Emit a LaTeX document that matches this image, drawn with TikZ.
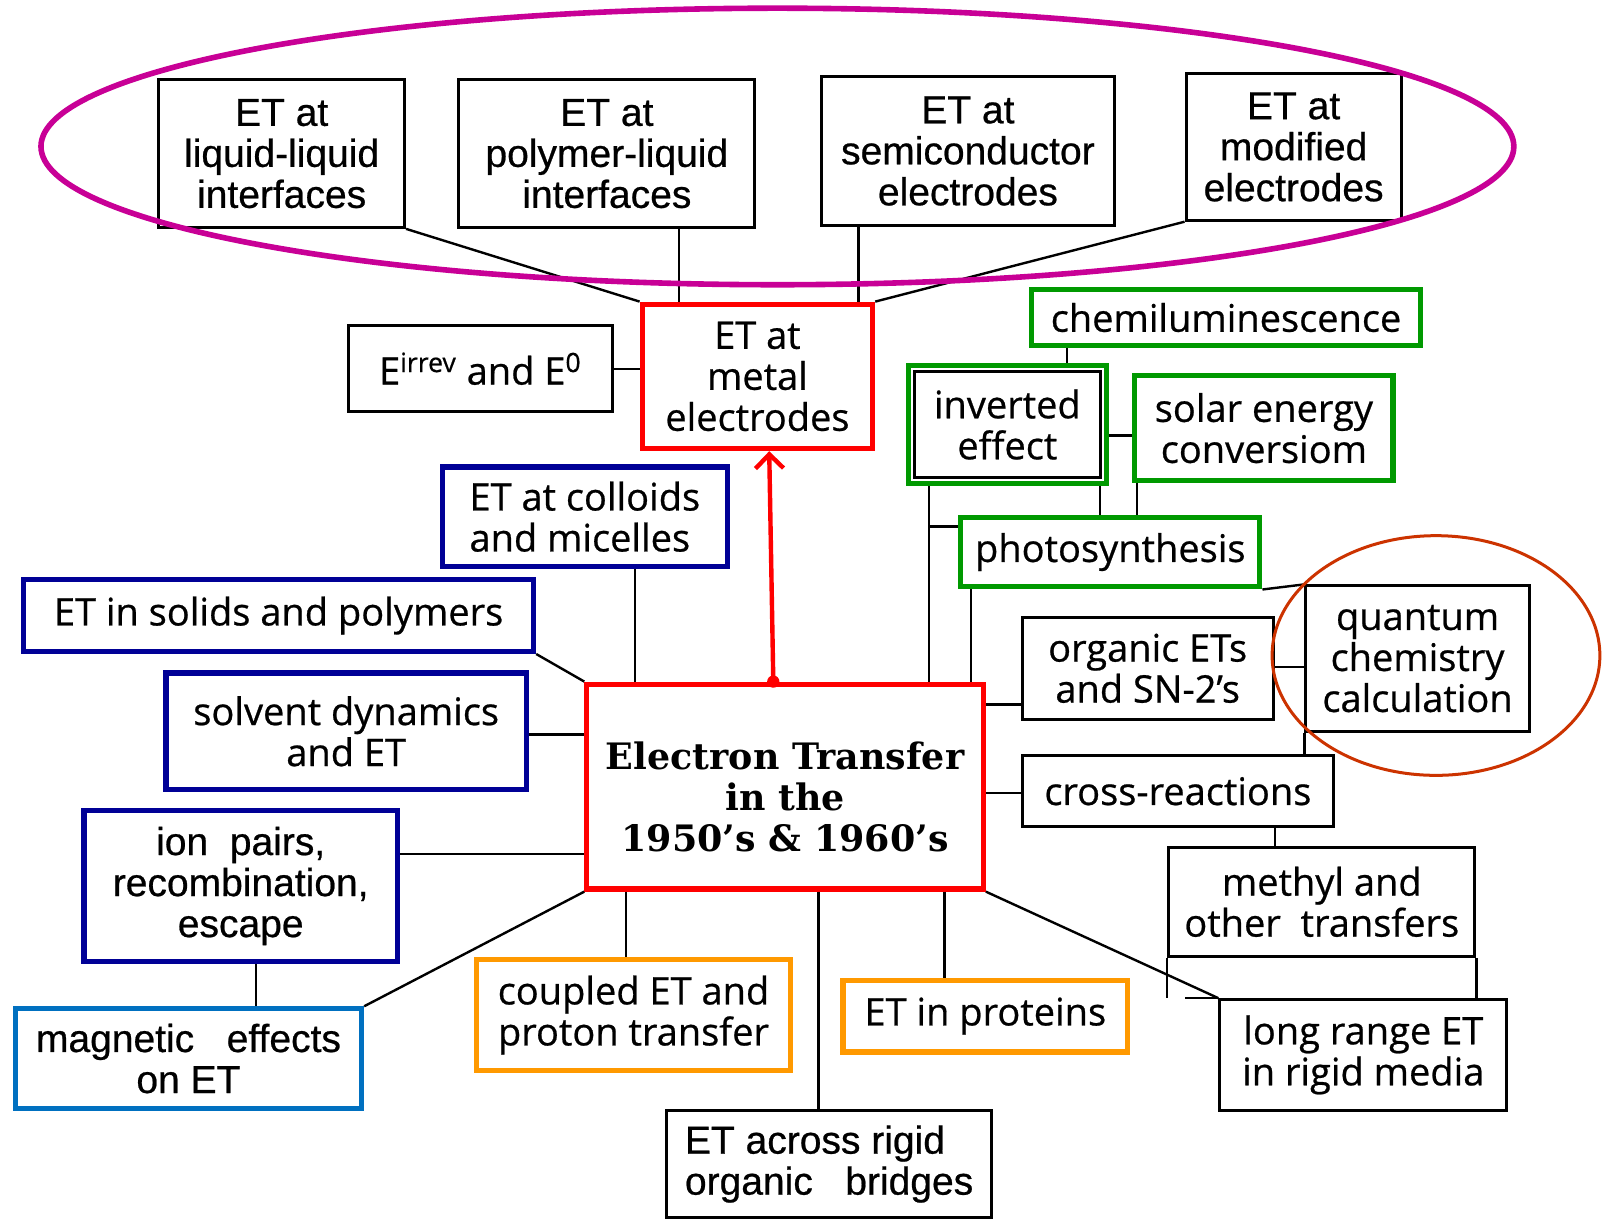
\documentclass[tikz,border=0pt]{standalone}
\usepackage{fontspec}
\setmainfont{Open Sans}[FakeBold=0.6]
\newfontfamily\arialf{Liberation Sans}[FakeBold=0.6]
\newfontfamily\serifb{DejaVu Serif}
\usetikzlibrary{arrows.meta}
\definecolor{magenta1}{RGB}{200,0,150}
\definecolor{redbox}{RGB}{255,0,0}
\definecolor{navy1}{RGB}{0,0,150}
\definecolor{lblue}{RGB}{0,112,192}
\definecolor{green1}{RGB}{0,153,0}
\definecolor{orange1}{RGB}{255,153,0}
\definecolor{rust}{RGB}{204,51,0}
\newcommand\bx[7]{\node[#6, minimum width={(#4-#2)*0.5121pt}, minimum height={(#5-#3)*0.5121pt}] (#1) at ({(#2+#4)/2},{(#3+#5)/2}) {#7};}
\tikzset{
  base/.style={inner sep=0pt, align=center, font=\fontsize{19}{20.5}\selectfont},
  arfont/.style={font=\arialf\fontsize{19.5}{20.5}\selectfont},
  blk/.style={base, draw=black, line width=1.5pt},
  blkar/.style={blk, arfont},
  redb/.style={base, draw=redbox, line width=2.6pt},
  mainst/.style={redb, font=\serifb\bfseries\fontsize{18.2}{20.5}\selectfont},
  grn/.style={base, draw=green1, line width=2.6pt},
  nvy/.style={base, draw=navy1, line width=2.6pt},
  nvyar/.style={nvy, arfont},
  lbl/.style={base, draw=lblue, line width=2.6pt, arfont},
  orn/.style={base, draw=orange1, line width=2.6pt},
  conn/.style={draw=black, line width=1.2pt},
}
\begin{document}
\begin{tikzpicture}[x=0.5121pt, y=-0.5121pt]
\fill[white] (0,0) rectangle (1568,1192);
\useasboundingbox (0,0) rectangle (1568,1192);
% nodes
\bx{t1}{155}{78}{395}{222}{blkar}{ET at\\liquid-liquid\\interfaces}
\bx{t2}{448}{78}{737}{222}{blkar}{ET at\\polymer-liquid\\interfaces}
\bx{t3}{802}{75}{1088}{220}{blkar}{ET at\\semiconductor\\electrodes}
\bx{t4}{1158}{72}{1368}{215}{blkar}{ET at\\modified\\electrodes}
\bx{metal}{627}{297}{852}{438}{redb}{ET at\\metal\\electrodes}
\bx{erev}{340}{318}{598}{402}{blk}{E\textsuperscript{irrev} and E\textsuperscript{0}}
\bx{chemi}{1007}{283}{1387}{337}{grn}{chemiluminescence}
\draw[black, line width=1.5pt] (893,363) rectangle (1074,466);
\bx{inv}{887}{357}{1080}{472}{grn}{inverted\\effect}
\bx{solar}{1108}{367}{1360}{469}{grn}{solar energy\\conversiom}
\bx{photo}{938}{505}{1230}{573}{grn}{photosynthesis}
\bx{coll}{432}{456}{710}{553}{nvy,align=left}{ET at colloids\\and micelles}
\bx{solids}{23}{566}{521}{636}{nvy}{ET in solids and polymers}
\bx{solv}{162}{657}{514}{771}{nvy}{solvent dynamics\\and ET}
\bx{ion}{82}{791}{388}{939}{nvyar}{ion\ \ pairs,\\recombination,\\escape}
\bx{mag}{15}{985}{353}{1082}{lbl}{magnetic\ \ \ effects\\on ET}
\bx{coup}{465}{937}{772}{1045}{orn}{coupled ET and\\proton transfer}
\bx{prot}{823}{957}{1101}{1027}{orn}{ET in proteins}
\bx{main}{573}{668}{960}{868}{mainst}{\raisebox{0pt}[\dimexpr\height+15.4pt\relax][\depth]{\begin{tabular}{@{}c@{}}Electron Transfer\\in the\\1950’s \& 1960’s\end{tabular}}}
\bx{org}{998}{603}{1243}{702}{blk}{organic ETs\\and SN-2’s}
\bx{quant}{1275}{572}{1493}{714}{blk}{quantum\\chemistry\\calculation}
\bx{cross}{998}{738}{1302}{807}{blk}{cross-reactions}
\bx{meth}{1141}{827}{1440}{934}{blk}{methyl and\\other\ \ transfers}
\bx{long}{1191}{976}{1471}{1084}{blk}{long range ET\\in rigid media}
\bx{across}{651}{1084}{968}{1189}{blkar,align=left}{ET across rigid\\organic\ \ \ bridges}
% connectors
\draw[conn] (t1.south east) -- (metal.north west);
\draw[conn] (663,0 |- t2.south) -- (663,0 |- metal.north);
\draw[conn] (838,0 |- t3.south) -- (838,0 |- metal.north);
\draw[conn] (t4.south west) -- (metal.north east);
\draw[conn] (erev.east) -- (erev.east -| metal.west);
\draw[conn] (1042,0 |- chemi.south) -- (1042,0 |- inv.north);
\draw[conn] (inv.east |- 0,425) -- (solar.west |- 0,425);
\draw[conn] (1074,0 |- inv.south) -- (1074,0 |- photo.north);
\draw[conn] (1110,0 |- solar.south) -- (1110,0 |- photo.north);
\draw[conn] (907,0 |- inv.south) -- (907,0 |- main.north);
\coordinate (jn) at (907,514);
\draw[conn] (jn) -- (photo.west |- jn);
\draw[conn] (948,0 |- photo.south) -- (948,0 |- main.north);
\draw[conn] (main.east |- 0,688) -- (org.west |- 0,688);
\draw[conn] (org.east |- 0,651) -- (quant.west |- 0,651);
\draw[conn] (photo.south east) -- (quant.north west);
\draw[conn] (quant.south west) -- (quant.south west |- cross.north);
\draw[conn] (main.east |- 0,774) -- (cross.west |- 0,774);
\draw[conn] (1245,0 |- cross.south) -- (1245,0 |- meth.north);
\draw[conn] (meth.south west) -- (meth.south west |- long.north);
\draw[conn] (meth.south east) -- (meth.south east |- long.north);
\draw[conn] (1157,0 |- long.north) -- (long.north west);
\draw[conn] (main.south east) -- (long.north west);
\draw[conn] (922,0 |- main.south) -- (922,0 |- prot.north);
\draw[conn] (799,0 |- main.south) -- (799,0 |- across.north);
\draw[conn] (611,0 |- main.south) -- (611,0 |- coup.north);
\draw[conn] (main.south west) -- (mag.north east);
\draw[conn] (250,0 |- ion.south) -- (250,0 |- mag.north);
\draw[conn] (ion.east |- 0,834) -- (main.west |- 0,834);
\draw[conn] (solv.east |- 0,717) -- (main.west |- 0,717);
\draw[conn] (solids.south east) -- (main.north west);
\draw[conn] (620,0 |- coll.south) -- (620,0 |- main.north);
% red arrow
\draw[redbox, line width=2.2pt, -{Straight Barb[length=7pt,width=14pt,line width=2.2pt]}] (755,0 |- main.north) -- (751,0 |- metal.south);
\fill[redbox] (755,0 |- main.north) circle (6);
% ellipses
\draw[magenta1, line width=2.8pt] (759,143) ellipse [x radius=719, y radius=135];
\draw[rust, line width=1.5pt] (1402,640) ellipse [x radius=160, y radius=117];
\end{tikzpicture}
\end{document}
